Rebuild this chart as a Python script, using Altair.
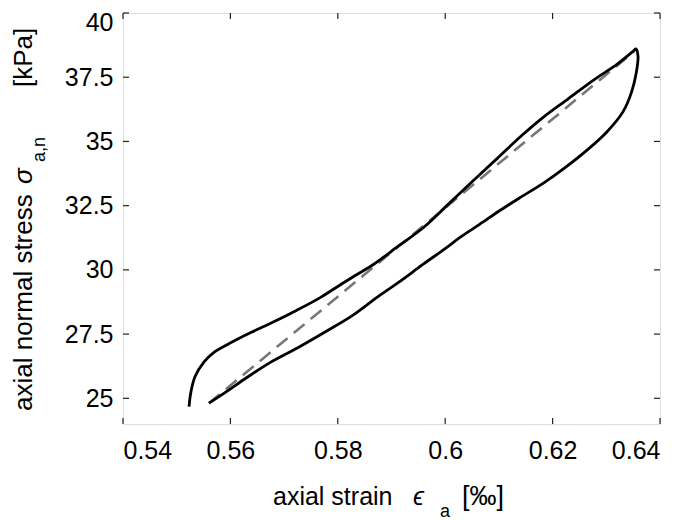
import altair as alt
import pandas as pd

# Loading/unloading loop
up_x = [0.5523, 0.5526, 0.5534, 0.5551, 0.5570, 0.5603, 0.5640, 0.5676, 0.5722, 0.5768,
        0.5807, 0.5834, 0.5867, 0.5913, 0.5959, 0.6005, 0.6044, 0.6097, 0.6143, 0.6183,
        0.6229, 0.6275, 0.6321, 0.6351, 0.6355]
up_y = [24.68, 25.19, 25.84, 26.42, 26.80, 27.19, 27.58, 27.93, 28.41, 28.93,
        29.45, 29.80, 30.22, 30.93, 31.64, 32.54, 33.31, 34.34, 35.24, 35.95,
        36.66, 37.37, 38.02, 38.53, 38.60]
down_x = [0.6359, 0.6356, 0.6347, 0.6331, 0.6301, 0.6268, 0.6222, 0.6183, 0.6143, 0.6104,
          0.6064, 0.6031, 0.5998, 0.5959, 0.5913, 0.5873, 0.5827, 0.5781, 0.5728, 0.5676,
          0.5630, 0.5590, 0.5560]
down_y = [38.34, 37.69, 36.92, 36.15, 35.37, 34.73, 33.96, 33.38, 32.86, 32.34,
          31.77, 31.31, 30.80, 30.22, 29.51, 28.93, 28.22, 27.64, 27.00, 26.42,
          25.80, 25.22, 24.81]
fit_x = [0.5560, 0.6352]
fit_y = [24.81, 38.50]
x_ticks = [0.54, 0.56, 0.58, 0.60, 0.62, 0.64]
y_ticks = [25, 27.5, 30, 32.5, 35, 37.5, 40]

W, H = 537, 411
FONT = "Liberation Sans"

loop_df = pd.DataFrame({
    "x": up_x + down_x,
    "y": up_y + down_y,
    "i": list(range(len(up_x) + len(down_x))),
})
fit_df = pd.DataFrame({"x": fit_x, "y": fit_y})
xt_df = pd.DataFrame({"x": x_ticks})
yt_df = pd.DataFrame({"y": y_ticks})

xs = alt.Scale(domain=[0.54, 0.64], nice=False, zero=False)
ys = alt.Scale(domain=[24, 40], nice=False, zero=False)

x_axis = alt.Axis(values=x_ticks, format=".2~f", title=None, ticks=False, tickSize=0,
                  domain=False, grid=False, labelFont=FONT, labelFontSize=25,
                  labelColor="black", labelPadding=14)
y_axis = alt.Axis(values=y_ticks, format=".1~f", title=None, ticks=False, tickSize=0,
                  domain=False, grid=False, labelFont=FONT, labelFontSize=25,
                  labelColor="black", labelPadding=10,
                  labelOffset={"condition": {"test": "datum.value >= 40", "value": 9},
                               "value": 0})

X = alt.X("x:Q", scale=xs, axis=x_axis)
Y = alt.Y("y:Q", scale=ys, axis=y_axis)

loop = alt.Chart(loop_df).mark_line(color="black", strokeWidth=2.8,
                                    interpolate="catmull-rom").encode(x=X, y=Y, order="i:Q")
fit = alt.Chart(fit_df).mark_line(color="#777777", strokeWidth=2.6,
                                  strokeDash=[14, 8]).encode(x=X, y=Y)

tick_style = dict(color="#222222", strokeWidth=1.2)
xt_bot = alt.Chart(xt_df).mark_rule(**tick_style).encode(
    x=X, y=alt.value(H), y2=alt.value(H - 6))
xt_top = alt.Chart(xt_df).mark_rule(**tick_style).encode(
    x=X, y=alt.value(0), y2=alt.value(6))
yt_left = alt.Chart(yt_df).mark_rule(**tick_style).encode(
    y=Y, x=alt.value(0), x2=alt.value(6))
yt_right = alt.Chart(yt_df).mark_rule(**tick_style).encode(
    y=Y, x=alt.value(W), x2=alt.value(W - 6))


def label(text, x, y, size=25, style="normal", angle=0):
    return alt.Chart(pd.DataFrame({"t": [text]})).mark_text(
        font=FONT, fontSize=size, fontStyle=style, color="black",
        align="left", baseline="alphabetic", angle=angle,
    ).encode(text="t:N", x=alt.value(x), y=alt.value(y))


# x-axis title: axial strain ϵ_a [‰]
xt1 = label("axial strain", 150, 492)
xt2 = label("ϵ", 290, 492, style="italic")
xt3 = label("a", 317, 504, size=18)
xt4 = label("[‰]", 339, 492, size=27)

# y-axis title: axial normal stress σ_{a,n} [kPa]
yt1 = label("axial normal stress", -91, 398, size=26, angle=270)
yt2 = label("σ", -91, 171, size=26, style="italic", angle=270)
yt3 = label("a,n", -78, 149, size=18, angle=270)
yt4 = label("[kPa]", -91, 74, size=26, angle=270)

chart = alt.layer(
    fit, loop, xt_bot, xt_top, yt_left, yt_right,
    xt1, xt2, xt3, xt4, yt1, yt2, yt3, yt4,
).properties(
    width=W, height=H,
    autosize=alt.AutoSizeParams(type="none"),
    padding={"left": 115, "top": 5, "right": 17, "bottom": 96},
).configure_view(stroke="#222222", strokeWidth=1.5).configure(background="white")

chart.save("out.html", embed_options={"renderer": "svg", "actions": False})
